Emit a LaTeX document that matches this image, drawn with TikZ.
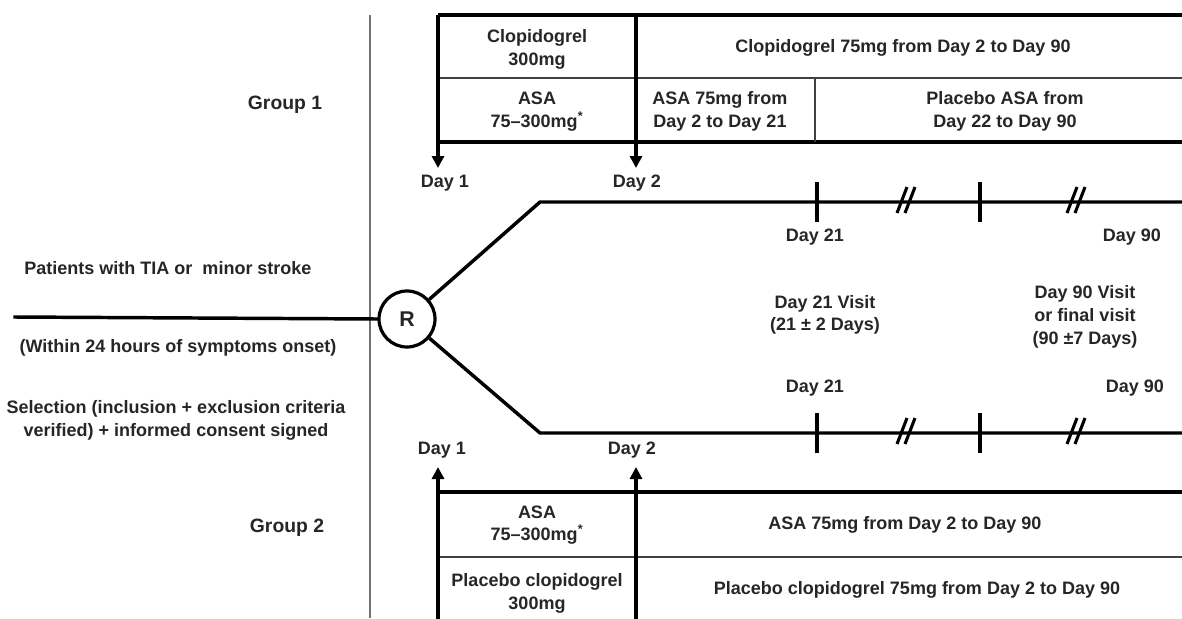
\documentclass[tikz,border=0pt]{standalone}
\usepackage{fontspec}
\setmainfont{Liberation Sans}
\usetikzlibrary{arrows.meta}
\begin{document}
\begin{tikzpicture}[x=0.75pt,y=-0.75pt,
  txt/.style={font=\fontsize{13.5pt}{17pt}\selectfont\bfseries, text=black!85, align=center, inner sep=0pt},
  grp/.style={txt, font=\fontsize{14.5pt}{17pt}\selectfont\bfseries},
  heavy/.style={line width=2.6pt, line cap=rect},
  border/.style={line width=2.3pt},
  thinrule/.style={line width=1.3pt, black!75},
  sep/.style={line width=1.5pt, black!55},
  arr/.style={line width=2.3pt, -{Triangle[length=9pt,width=9pt]}},
  tick/.style={line width=2.3pt},
  brk/.style={line width=2.3pt},
  rnode/.style={circle, draw, line width=2.4pt, minimum size=42pt, inner sep=0pt, text=black!85, font=\fontsize{16pt}{17pt}\selectfont\bfseries}
]
\useasboundingbox (0,0) rectangle (1182,618);

% separator
\draw[sep] (370,15) -- (370,618);

% ---- top table ----
\coordinate (TL) at (438,15);
\coordinate (TR) at (1182,15);
\coordinate (TM1) at (438,78);
\coordinate (TM2) at (1182,78);
\coordinate (TB1) at (438,142);
\coordinate (TB2) at (1182,142);
\coordinate (TD2top) at (636,15);
\coordinate (TDmid) at (815,78);
\coordinate (TDmidb) at (815,142);
\coordinate (A1tip) at (438,168);
\coordinate (A2tip) at (636,168);
\draw[border] (TL) -- (TR);
\draw[border] (TB1) -- (TB2);
\draw[thinrule] (TM1) -- (TM2);
\draw[thinrule] (TDmid) -- (TDmidb);
\draw[arr] (TL) -- (A1tip);
\draw[arr] (TD2top) -- (A2tip);

\node[txt] (c1) at (537,49.5) {Clopidogrel\\300mg};
\node[txt] (c2) at (537,111.5) {ASA\\75–300mg\textsuperscript{*}};
\node[txt] (c3) at (903,48) {Clopidogrel 75mg from Day 2 to Day 90};
\node[txt] (c4) at (720,111.5) {ASA 75mg from\\Day 2 to Day 21};
\node[txt] (c5) at (1005,111.5) {Placebo ASA from\\Day 22 to Day 90};

\node[grp] (g1) at (285,105) {Group 1};
\node[txt] (d1t) at (445,183) {Day 1};
\node[txt] (d2t) at (637,183) {Day 2};

% ---- timeline ----
\node[rnode] (R) at (407,319) {R};
\coordinate (start) at (15,317);
\coordinate (U1) at (540,202);
\coordinate (U2) at (1182,202);
\coordinate (L1) at (540,433);
\coordinate (L2) at (1182,433);
\draw[heavy] (start) -- (R.west);
\draw[heavy, line cap=butt, line join=miter] (R) -- (U1) -- (U2);
\draw[heavy, line cap=butt, line join=miter] (R) -- (L1) -- (L2);

% ticks and breaks
\foreach \y in {202,433} {
  \draw[tick] (817,\y-20) -- (817,\y+20);
  \draw[tick] (980,\y-20) -- (980,\y+20);
  \foreach \x in {908,1078} {
    \draw[brk] (\x-11,\y+11) -- (\x-1,\y-15);
    \draw[brk] (\x-3,\y+11) -- (\x+7,\y-15);
  }
}

\node[txt] (d21u) at (815,237) {Day 21};
\node[txt] (d90u) at (1132,237) {Day 90};
\node[txt] (v21) at (825,315) {Day 21 Visit\\(21 ± 2 Days)};
\node[txt] (v90) at (1085,317) {Day 90 Visit\\or final visit\\(90 ±7 Days)};
\node[txt] (d21l) at (815,388) {Day 21};
\node[txt] (d90l) at (1135,388) {Day 90};

% left texts
\node[txt] (p1) at (168,268) {Patients with TIA or\ \ minor stroke};
\node[txt] (p2) at (178,348) {(Within 24 hours of symptoms onset)};
\node[txt] (p3) at (176,420.5) {Selection (inclusion + exclusion criteria\\verified) + informed consent signed};

% ---- bottom table ----
\node[txt] (d1b) at (442,450) {Day 1};
\node[txt] (d2b) at (632,450) {Day 2};
\coordinate (BL) at (438,492);
\coordinate (BR) at (1182,492);
\coordinate (BM1) at (438,557);
\coordinate (BM2) at (1182,557);
\coordinate (B1bot) at (438,620);
\coordinate (B2bot) at (636,620);
\coordinate (B1tip) at (438,467);
\coordinate (B2tip) at (636,467);
\draw[border] (BL) -- (BR);
\draw[thinrule] (BM1) -- (BM2);
\draw[arr] (B1bot) -- (B1tip);
\draw[arr] (B2bot) -- (B2tip);

\node[grp] (g2) at (287,528) {Group 2};
\node[txt] (e1) at (537,525) {ASA\\75–300mg\textsuperscript{*}};
\node[txt] (e2) at (537,593.5) {Placebo clopidogrel\\300mg};
\node[txt] (e3) at (905,525) {ASA 75mg from Day 2 to Day 90};
\node[txt] (e4) at (917,590) {Placebo clopidogrel 75mg from Day 2 to Day 90};
\end{tikzpicture}
\end{document}
